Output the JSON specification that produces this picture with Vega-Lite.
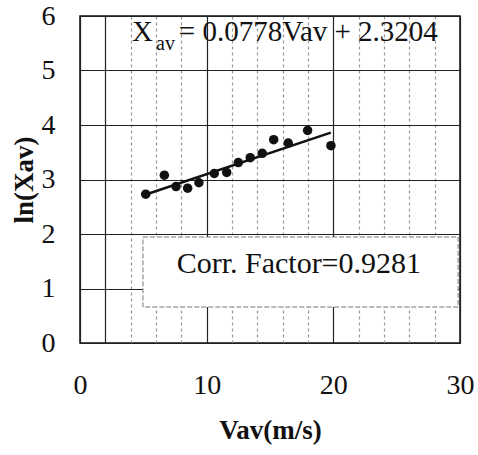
{
  "$schema": "https://vega.github.io/schema/vega-lite/v6.json",
  "autosize": "none",
  "width": 380,
  "height": 327,
  "padding": {"left": 80, "top": 16, "right": 18, "bottom": 112},
  "background": "white",
  "config": {
    "view": {"stroke": "#111", "strokeWidth": 1.5},
    "font": "Liberation Serif"
  },
  "datasets": {
    "pts": [
      {"v": 5.19, "lnx": 2.73},
      {"v": 6.66, "lnx": 3.08},
      {"v": 7.58, "lnx": 2.87},
      {"v": 8.5, "lnx": 2.84},
      {"v": 9.39, "lnx": 2.94},
      {"v": 10.6, "lnx": 3.11},
      {"v": 11.58, "lnx": 3.13},
      {"v": 12.5, "lnx": 3.31},
      {"v": 13.44, "lnx": 3.4},
      {"v": 14.39, "lnx": 3.48},
      {"v": 15.29, "lnx": 3.73},
      {"v": 16.44, "lnx": 3.67},
      {"v": 17.97, "lnx": 3.9},
      {"v": 19.81, "lnx": 3.62}
    ],
    "fit": [
      {"v": 5.2, "lnx": 2.725},
      {"v": 19.8, "lnx": 3.861}
    ],
    "box": [
      {"x1": 4.97, "x2": 29.85, "y1": 0.66, "y2": 1.945}
    ]
  },
  "layer": [
    {
      "data": {"name": "box"},
      "mark": {"type": "rect", "fill": "white", "stroke": "#777", "strokeWidth": 1, "strokeDash": [5, 2]},
      "encoding": {
        "x": {
          "field": "x1", "type": "quantitative",
          "scale": {"domain": [0, 30], "nice": false},
          "axis": {
            "values": [0, 2, 4, 6, 8, 10, 12, 14, 16, 18, 20, 22, 24, 26, 28, 30],
            "tickCount": 40,
            "labelExpr": "datum.value % 10 === 0 ? datum.label : ''",
            "labelOverlap": false,
            "title": "Vav(m/s)",
            "titleFont": "Liberation Serif",
            "titleFontSize": 27,
            "titleFontWeight": "bold",
            "titleColor": "#111",
            "titlePadding": 18,
            "labelFont": "Liberation Serif",
            "labelFontSize": 28,
            "labelFontWeight": "normal",
            "labelColor": "#111",
            "labelPadding": 28,
            "labelFlush": false,
            "ticks": false,
            "domain": false,
            "grid": true,
            "gridColor": {"condition": {"test": "datum.value % 10 === 0 || datum.value === 2", "value": "#222"}, "value": "#999"},
            "gridDash": {"condition": {"test": "datum.value % 10 === 0 || datum.value === 2", "value": []}, "value": [3, 3]},
            "gridWidth": 1.2
          }
        },
        "x2": {"field": "x2"},
        "y": {
          "field": "y1", "type": "quantitative",
          "scale": {"domain": [0, 6], "nice": false},
          "axis": {
            "values": [0, 1, 2, 3, 4, 5, 6],
            "tickCount": 20,
            "format": "d",
            "labelOverlap": false,
            "title": "ln(Xav)",
            "titleFont": "Liberation Serif",
            "titleFontSize": 27,
            "titleFontWeight": "bold",
            "titleColor": "#111",
            "titlePadding": 3,
            "labelFont": "Liberation Serif",
            "labelFontSize": 28,
            "labelFontWeight": "normal",
            "labelColor": "#111",
            "labelPadding": 25,
            "labelFlush": false,
            "ticks": false,
            "domain": false,
            "grid": true,
            "gridColor": "#222",
            "gridWidth": 1.2
          }
        },
        "y2": {"field": "y2"}
      }
    },
    {
      "data": {"name": "pts"},
      "mark": {"type": "circle", "size": 90, "color": "#111", "opacity": 1},
      "encoding": {
        "x": {"field": "v", "type": "quantitative"},
        "y": {"field": "lnx", "type": "quantitative"}
      }
    },
    {
      "data": {"name": "fit"},
      "mark": {"type": "line", "color": "#111", "strokeWidth": 2.5},
      "encoding": {
        "x": {"field": "v", "type": "quantitative"},
        "y": {"field": "lnx", "type": "quantitative"}
      }
    },
    {
      "data": {"values": [{"t": "X", "x": 4.1, "y": 5.533}]},
      "mark": {"type": "text", "align": "left", "baseline": "alphabetic", "fontSize": 29, "font": "Liberation Serif", "color": "#111"},
      "encoding": {
        "x": {"field": "x", "type": "quantitative"},
        "y": {"field": "y", "type": "quantitative"},
        "text": {"field": "t"}
      }
    },
    {
      "data": {"values": [{"t": "av", "x": 6.0, "y": 5.38}]},
      "mark": {"type": "text", "align": "left", "baseline": "alphabetic", "fontSize": 20, "font": "Liberation Serif", "color": "#111"},
      "encoding": {
        "x": {"field": "x", "type": "quantitative"},
        "y": {"field": "y", "type": "quantitative"},
        "text": {"field": "t"}
      }
    },
    {
      "data": {"values": [{"t": "= 0.0778Vav + 2.3204", "x": 7.8, "y": 5.533}]},
      "mark": {"type": "text", "align": "left", "baseline": "alphabetic", "fontSize": 29, "font": "Liberation Serif", "color": "#111"},
      "encoding": {
        "x": {"field": "x", "type": "quantitative"},
        "y": {"field": "y", "type": "quantitative"},
        "text": {"field": "t"}
      }
    },
    {
      "data": {"values": [{"t": "Corr. Factor=0.9281", "x": 7.63, "y": 1.276}]},
      "mark": {"type": "text", "align": "left", "baseline": "alphabetic", "fontSize": 30, "font": "Liberation Serif", "color": "#111"},
      "encoding": {
        "x": {"field": "x", "type": "quantitative"},
        "y": {"field": "y", "type": "quantitative"},
        "text": {"field": "t"}
      }
    }
  ]
}
